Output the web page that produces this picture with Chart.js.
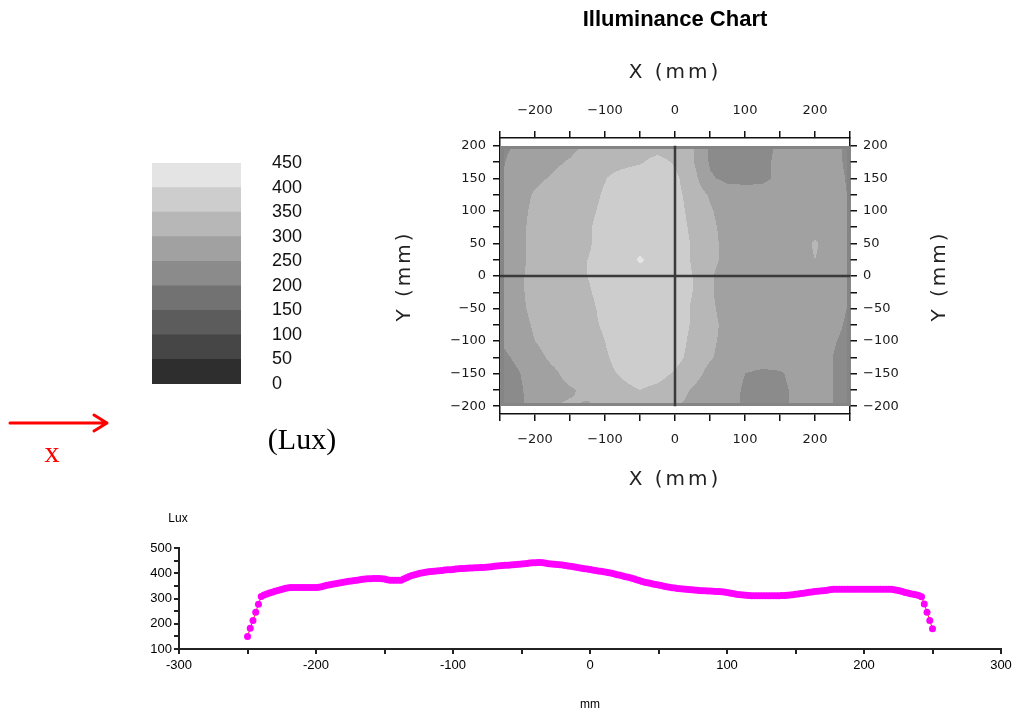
<!DOCTYPE html>
<html>
<head>
<meta charset="utf-8">
<title>Illuminance Chart</title>
<script src="https://cdn.jsdelivr.net/npm/chart.js@4.4.1/dist/chart.umd.min.js"></script>
<style>
  html, body { margin: 0; padding: 0; background: #fff; }
  #page { position: relative; width: 1017px; height: 716px; overflow: hidden; }
  canvas { position: absolute; }
  #chScale { left: 0; top: 0; }
  #chMap { left: 375px; top: 0; }
  #chProfile { left: 0; top: 500px; }
</style>
</head>
<body>
<div id="page">
  <canvas id="chScale" width="375" height="500"></canvas>
  <canvas id="chMap" width="600" height="500"></canvas>
  <canvas id="chProfile" width="1017" height="216"></canvas>
</div>
<script>
// lux bands shared by the colour scale and the map
var levels = [0, 50, 100, 150, 200, 250, 300, 350, 400, 450];
var bandColors = ['#2e2e2e', '#464646', '#5c5c5c', '#727272', '#8b8b8b', '#a1a1a1', '#b7b7b7', '#cdcdcd', '#e4e4e4'];

// map axis ticks (mm)
var mapXTicks = [-250, -200, -150, -100, -50, 0, 50, 100, 150, 200, 250];
var mapYTicks = [-200, -175, -150, -125, -100, -75, -50, -25, 0, 25, 50, 75, 100, 125, 150, 175, 200];

// measurement grid (mm) and lux readings, rows from top (y=200) to bottom (y=-200)
var gridX = [-250, -225, -200, -175, -150, -125, -100, -75, -50, -25, 0, 25, 50, 75, 100, 125, 150, 175, 200, 225, 250];
var gridY = [200, 175, 150, 125, 100, 75, 50, 25, 0, -25, -50, -75, -100, -125, -150, -175, -200];
var luxGrid = [
  [230,260,270,275,285,310,320,325,330,330,325,305,240,235,235,240,255,270,275,270,230],
  [240,275,280,290,305,325,330,335,345,365,345,305,245,235,235,240,260,275,275,270,235],
  [245,275,290,305,320,335,348,370,380,380,360,320,255,240,240,245,255,270,280,275,240],
  [250,280,305,320,325,335,355,375,380,385,365,330,295,270,265,260,265,275,280,275,245],
  [255,285,310,325,330,340,360,380,385,385,370,335,305,280,275,275,275,280,285,280,245],
  [255,290,310,325,330,345,365,380,385,385,375,340,310,285,275,275,275,280,285,280,245],
  [255,290,310,325,330,345,365,380,385,385,380,345,315,285,275,275,275,280,305,280,245],
  [255,290,310,325,330,350,365,380,405,385,380,345,315,285,275,275,275,280,300,280,245],
  [255,290,315,330,335,350,370,385,385,385,380,350,305,280,275,275,275,275,280,275,245],
  [255,290,315,330,335,345,365,385,385,385,380,350,305,280,275,275,275,275,275,275,245],
  [255,290,310,325,335,340,360,385,385,385,375,345,310,280,275,275,275,275,275,270,245],
  [250,285,305,320,330,340,355,380,385,385,375,345,315,285,275,275,275,275,275,265,240],
  [250,280,300,320,330,335,350,375,385,385,370,340,310,285,275,275,275,275,275,255,235],
  [235,260,285,310,325,335,345,365,380,380,365,335,305,280,275,275,275,275,270,250,230],
  [225,245,275,290,315,330,340,355,370,365,345,320,285,270,250,240,245,265,265,250,230],
  [225,240,270,285,295,310,325,340,350,340,325,295,275,265,245,235,240,260,265,250,230],
  [225,240,265,300,305,295,305,315,315,310,305,285,270,260,245,240,245,255,260,250,230]
];

// x profile (mm) and lux
var profileMm = [
  -250,-248,-246,-244,-242,-240,-238,-236,-234,-232,
  -230,-228,-226,-224,-222,-220,-218,-216,-214,-212,
  -210,-208,-206,-204,-202,-200,-198,-196,-194,-192,
  -190,-188,-186,-184,-182,-180,-178,-176,-174,-172,
  -170,-168,-166,-164,-162,-160,-158,-156,-154,-152,
  -150,-148,-146,-144,-142,-140,-138,-136,-134,-132,
  -130,-128,-126,-124,-122,-120,-118,-116,-114,-112,
  -110,-108,-106,-104,-102,-100,-98,-96,-94,-92,
  -90,-88,-86,-84,-82,-80,-78,-76,-74,-72,
  -70,-68,-66,-64,-62,-60,-58,-56,-54,-52,
  -50,-48,-46,-44,-42,-40,-38,-36,-34,-32,
  -30,-28,-26,-24,-22,-20,-18,-16,-14,-12,
  -10,-8,-6,-4,-2,0,2,4,6,8,
  10,12,14,16,18,20,22,24,26,28,
  30,32,34,36,38,40,42,44,46,48,
  50,52,54,56,58,60,62,64,66,68,
  70,72,74,76,78,80,82,84,86,88,
  90,92,94,96,98,100,102,104,106,108,
  110,112,114,116,118,120,122,124,126,128,
  130,132,134,136,138,140,142,144,146,148,
  150,152,154,156,158,160,162,164,166,168,
  170,172,174,176,178,180,182,184,186,188,
  190,192,194,196,198,200,202,204,206,208,
  210,212,214,216,218,220,222,224,226,228,
  230,232,234,236,238,240,242,244,246,248,
  250
];
var profileLux = [
  150,182,213,246,277,308,314,318,322,325,
  329,332,335,338,341,343,344,344,344,344,
  344,344,344,344,344,344,345,347,350,352,
  354,356,358,360,362,364,366,368,369,371,
  372,374,376,377,378,378,379,379,379,378,
  377,374,372,372,372,372,372,377,382,387,
  391,394,397,400,402,404,406,407,408,409,
  410,411,413,414,414,415,417,418,419,419,
  420,421,421,422,422,423,423,424,425,426,
  428,429,430,431,432,432,433,434,435,436,
  437,438,439,441,442,442,443,443,442,440,
  438,437,436,435,434,433,431,429,428,426,
  424,422,420,418,417,415,413,411,409,408,
  406,404,402,400,397,394,392,389,386,384,
  381,378,374,371,367,364,362,360,357,355,
  353,351,349,347,345,343,342,340,339,338,
  337,336,335,334,333,332,331,331,330,330,
  329,328,328,327,326,324,322,320,318,316,
  315,314,313,312,311,311,311,311,311,311,
  311,311,311,311,311,312,312,313,314,315,
  317,318,320,321,323,325,326,328,329,330,
  331,332,334,336,337,337,337,337,337,337,
  337,337,337,337,337,337,337,337,337,337,
  337,337,337,337,337,337,335,333,331,328,
  324,322,319,317,315,312,307,278,246,213,
  180
];

Chart.defaults.font.family = '"Liberation Sans", Arial, sans-serif';
Chart.defaults.color = '#000';
Chart.defaults.animation = false;
Chart.defaults.plugins.legend.display = false;
Chart.defaults.plugins.tooltip.enabled = false;

function hexRgb(h) {
  return [parseInt(h.substr(1, 2), 16), parseInt(h.substr(3, 2), 16), parseInt(h.substr(5, 2), 16)];
}
var bandRgb = bandColors.map(hexRgb);

function bandOf(v) {
  for (var i = levels.length - 2; i >= 0; i--) {
    if (v >= levels[i]) return i;
  }
  return 0;
}

// ---------- colour scale ----------
var scaleSets = bandColors.map(function (c, i) {
  return {
    data: [levels[i + 1] - levels[i]],
    backgroundColor: c,
    borderWidth: 0,
    barPercentage: 1,
    categoryPercentage: 1
  };
});

var scaleNotes = {
  id: 'scaleNotes',
  afterDraw: function (chart) {
    var ctx = chart.ctx, a = chart.chartArea;
    ctx.save();
    ctx.fillStyle = '#000';
    ctx.font = '30px "Liberation Serif", "Times New Roman", serif';
    ctx.textAlign = 'center';
    ctx.textBaseline = 'middle';
    ctx.fillText('(Lux)', a.right + 61, a.bottom + 57);

    // direction arrow
    var y0 = a.bottom + 39, x0 = a.left - 142, x1 = a.left - 45;
    ctx.strokeStyle = '#ff0000';
    ctx.lineWidth = 3;
    ctx.lineCap = 'round';
    ctx.lineJoin = 'round';
    ctx.beginPath();
    ctx.moveTo(x0, y0);
    ctx.lineTo(x1, y0);
    ctx.moveTo(x1 - 13, y0 - 8);
    ctx.lineTo(x1, y0);
    ctx.lineTo(x1 - 13, y0 + 8);
    ctx.stroke();
    ctx.fillStyle = '#ff0000';
    ctx.fillText('x', a.left - 100, a.bottom + 70);
    ctx.restore();
  }
};

new Chart(document.getElementById('chScale'), {
  type: 'bar',
  data: { labels: ['lux'], datasets: scaleSets },
  options: {
    responsive: false,
    devicePixelRatio: 1,
    layout: { padding: { left: 152, top: 163, bottom: 116, right: 0 } },
    scales: {
      x: { display: false, stacked: true },
      y: {
        position: 'right',
        stacked: true,
        min: levels[0],
        max: levels[levels.length - 1],
        grid: { display: false, drawTicks: false },
        border: { display: false },
        ticks: { stepSize: 50, autoSkip: false, padding: 31, font: { size: 18 }, color: '#111' },
        afterBuildTicks: function (s) {
          s.ticks = levels.map(function (v) { return { value: v }; });
        },
        afterFit: function (s) { s.width = 134; }
      }
    }
  },
  plugins: [scaleNotes]
});

// ---------- illuminance map ----------
var contourFill = {
  id: 'contourFill',
  beforeDatasetsDraw: function (chart) {
    var ctx = chart.ctx, xs = chart.scales.x, ys = chart.scales.y;
    var left = Math.round(xs.getPixelForValue(gridX[0])) + 1;
    var right = Math.round(xs.getPixelForValue(gridX[gridX.length - 1]));
    var top = Math.round(ys.getPixelForValue(gridY[0]));
    var bottom = Math.round(ys.getPixelForValue(gridY[gridY.length - 1]));
    var w = right - left, h = bottom - top;
    var img = ctx.createImageData(w, h);
    var dx = gridX[1] - gridX[0], dy = gridY[1] - gridY[0];
    var nc = gridX.length - 1, nr = gridY.length - 1;
    for (var j = 0; j < h; j++) {
      var fy = (ys.getValueForPixel(top + j + 0.5) - gridY[0]) / dy;
      fy = Math.min(Math.max(fy, 0), nr - 0.0001);
      var r = Math.floor(fy), ty = fy - r;
      for (var i = 0; i < w; i++) {
        var fx = (xs.getValueForPixel(left + i + 0.5) - gridX[0]) / dx;
        fx = Math.min(Math.max(fx, 0), nc - 0.0001);
        var c = Math.floor(fx), tx = fx - c;
        var v = (luxGrid[r][c] * (1 - tx) + luxGrid[r][c + 1] * tx) * (1 - ty) +
                (luxGrid[r + 1][c] * (1 - tx) + luxGrid[r + 1][c + 1] * tx) * ty;
        var rgb = bandRgb[bandOf(v)];
        var k = (j * w + i) * 4;
        img.data[k] = rgb[0];
        img.data[k + 1] = rgb[1];
        img.data[k + 2] = rgb[2];
        img.data[k + 3] = 255;
      }
    }
    var off = document.createElement('canvas');
    off.width = w;
    off.height = h;
    off.getContext('2d').putImageData(img, 0, 0);
    ctx.save();
    ctx.drawImage(off, left, top);
    ctx.strokeStyle = '#858585';
    ctx.lineWidth = 3;
    ctx.strokeRect(left + 1.5, top + 1.5, w - 3, h - 3);
    ctx.restore();
  }
};

var axisNames = {
  id: 'axisNames',
  afterDraw: function (chart) {
    var ctx = chart.ctx, a = chart.chartArea;
    var cx = (a.left + a.right) / 2, cy = (a.top + a.bottom) / 2;
    ctx.save();
    ctx.fillStyle = '#222';
    ctx.font = '20px "DejaVu Sans", sans-serif';
    ctx.letterSpacing = '3px';
    ctx.textAlign = 'center';
    ctx.textBaseline = 'middle';
    ctx.fillText('X (mm)', cx, a.top - 65);
    ctx.fillText('X (mm)', cx, a.bottom + 66);
    [a.left - 95, a.right + 90].forEach(function (px) {
      ctx.save();
      ctx.translate(px, cy);
      ctx.rotate(-Math.PI / 2);
      ctx.fillText('Y (mm)', 0, 0);
      ctx.restore();
    });
    ctx.restore();
  }
};

function mmLabel(step) {
  return function (v) {
    if (v % step !== 0) return '';
    return v < 0 ? '\u2212' + Math.abs(v) : String(v);
  };
}

var tickFont = { family: '"DejaVu Sans", sans-serif', size: 13 };

function mapAxis(pos, min, max, tickValues, labelStep, pad, size) {
  var horizontal = (pos === 'top' || pos === 'bottom');
  return {
    type: 'linear',
    position: pos,
    min: min,
    max: max,
    grid: { drawOnChartArea: false, tickLength: 7, color: '#111', lineWidth: 1.5 },
    border: { color: '#111', width: 1.5 },
    ticks: {
      autoSkip: false,
      maxRotation: 0,
      padding: pad,
      font: tickFont,
      color: '#1a1a1a',
      callback: mmLabel(labelStep)
    },
    afterBuildTicks: function (s) {
      s.ticks = tickValues.map(function (v) { return { value: v }; });
    },
    afterFit: function (s) {
      if (horizontal) s.height = size; else s.width = size;
    }
  };
}

new Chart(document.getElementById('chMap'), {
  type: 'scatter',
  data: {
    datasets: [
      { data: [{ x: 0, y: -200 }, { x: 0, y: 200 }], showLine: true, borderColor: '#3a3a3a', borderWidth: 2.5, pointRadius: 0 },
      { data: [{ x: -250, y: 0 }, { x: 250, y: 0 }], showLine: true, borderColor: '#3a3a3a', borderWidth: 2.5, pointRadius: 0 }
    ]
  },
  options: {
    responsive: false,
    devicePixelRatio: 1,
    plugins: {
      title: {
        display: true,
        text: 'Illuminance Chart',
        color: '#000',
        font: { size: 22, weight: 'bold' },
        padding: { top: 7, bottom: 0 }
      }
    },
    scales: {
      x: mapAxis('bottom', -250, 250, mapXTicks, 100, 11, 86),
      xTop: mapAxis('top', -250, 250, mapXTicks, 100, 13, 104.6),
      y: mapAxis('left', -212, 212, mapYTicks, 50, 7, 125),
      yRight: mapAxis('right', -212, 212, mapYTicks, 50, 6, 125)
    }
  },
  plugins: [contourFill, axisNames]
});

// ---------- x profile ----------
var profileNotes = {
  id: 'profileNotes',
  afterDraw: function (chart) {
    var ctx = chart.ctx, a = chart.chartArea;
    ctx.save();
    ctx.fillStyle = '#000';
    ctx.font = '12px "Liberation Sans", Arial, sans-serif';
    ctx.textAlign = 'center';
    ctx.textBaseline = 'middle';
    ctx.fillText('Lux', a.left - 1, a.top - 29);
    ctx.fillText('mm', (a.left + a.right) / 2, a.bottom + 56);
    ctx.restore();
  }
};

function plainLabel(step) {
  return function (v) { return v % step === 0 ? String(v) : ''; };
}

new Chart(document.getElementById('chProfile'), {
  type: 'scatter',
  data: {
    datasets: [{
      data: profileMm.map(function (x, i) { return { x: x, y: profileLux[i] }; }),
      showLine: true,
      borderColor: '#ff2a00',
      borderWidth: 1,
      pointRadius: 3.5,
      pointBackgroundColor: '#ff00ff',
      pointBorderWidth: 0
    }]
  },
  options: {
    responsive: false,
    devicePixelRatio: 1,
    layout: { padding: { top: 48, right: 16 } },
    scales: {
      x: {
        type: 'linear',
        min: -300,
        max: 300,
        grid: { drawOnChartArea: false, tickLength: 5, color: '#222', lineWidth: 2 },
        border: { color: '#222', width: 2 },
        ticks: { stepSize: 50, autoSkip: false, maxRotation: 0, padding: 4, font: { size: 13 }, callback: plainLabel(100) },
        afterFit: function (s) { s.height = 67; }
      },
      y: {
        min: 100,
        max: 500,
        grid: { drawOnChartArea: false, tickLength: 5, color: '#222', lineWidth: 2 },
        border: { color: '#222', width: 2 },
        ticks: { stepSize: 50, autoSkip: false, padding: 2, font: { size: 13 }, callback: plainLabel(100) },
        afterFit: function (s) { s.width = 179; }
      }
    }
  },
  plugins: [profileNotes]
});
</script>
</body>
</html>
